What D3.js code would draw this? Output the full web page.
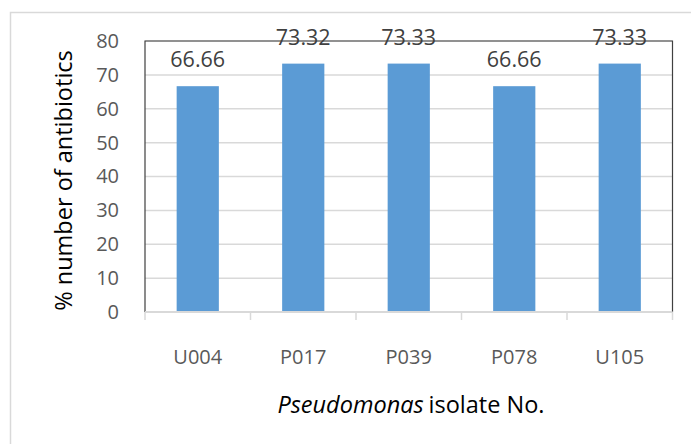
<!DOCTYPE html>
<html><head><meta charset="utf-8">
<script src="https://cdn.jsdelivr.net/npm/d3@7"></script>
<style>body{margin:0;background:#fff}svg{display:block}text{font-family:"Open Sans",sans-serif}</style>
</head><body>
<svg id="c" width="691" height="444"></svg>
<script>
const categories = ["U004","P017","P039","P078","U105"];
const values = [66.66, 73.32, 73.33, 66.66, 73.33];
const labels = ["66.66","73.32","73.33","66.66","73.33"];
const yTicks = [0,10,20,30,40,50,60,70,80];

const svg = d3.select("#c");
const L = 145, R = 672.5, T = 41, B = 312;
const x = d3.scaleBand().domain(categories).range([L, R]).paddingInner(0.6).paddingOuter(0.3);
const xb = d3.scaleBand().domain(categories).range([L, R]);
const y = d3.scaleLinear().domain([0,80]).range([B, T]);

// outer chart border
svg.append("rect").attr("x",10.5).attr("y",12.5).attr("width",720).attr("height",500)
  .attr("fill","none").attr("stroke","#d9d9d9").attr("stroke-width",1.5);

// gridlines
svg.append("g").selectAll("line").data(yTicks.filter(d=>d>0)).join("line")
  .attr("x1",L).attr("x2",R).attr("y1",d=>y(d)).attr("y2",d=>y(d))
  .attr("stroke","#d9d9d9").attr("stroke-width",1.5);

// plot area frame (dark) top, left, right
svg.append("path").attr("d",`M${L},${B}V${T}H${R}V${B}`).attr("fill","none")
  .attr("stroke","#404040").attr("stroke-width",1.2);

// bars
svg.append("g").selectAll("rect").data(categories).join("rect")
  .attr("x",d=>x(d)).attr("width",x.bandwidth())
  .attr("y",(d,i)=>y(values[i])).attr("height",(d,i)=>B-y(values[i]))
  .attr("fill","#5b9bd5");

// x axis
const xAxis = svg.append("g").attr("transform",`translate(0,${B})`)
  .call(d3.axisBottom(xb).tickSize(0).tickPadding(38));
xAxis.select(".domain").attr("stroke","#d9d9d9").attr("stroke-width",2).attr("d",`M${L},0H${R}`);
xAxis.selectAll("text").attr("font-size",20).attr("fill","#595959").attr("font-family","Open Sans");
const tickPos = categories.map(c=>xb(c)).concat([R]);
svg.append("g").selectAll("line").data(tickPos).join("line")
  .attr("x1",d=>d).attr("x2",d=>d).attr("y1",B).attr("y2",B+8)
  .attr("stroke","#d9d9d9").attr("stroke-width",1.5);

// y axis labels
const yAxis = svg.append("g").attr("transform",`translate(${L},0)`)
  .call(d3.axisLeft(y).tickValues(yTicks).tickSize(0).tickPadding(26));
yAxis.select(".domain").remove();
yAxis.selectAll("text").attr("font-size",20).attr("fill","#595959").attr("font-family","Open Sans");

// data labels
svg.append("g").selectAll("text").data(categories).join("text")
  .attr("x",d=>xb(d)+xb.bandwidth()/2).attr("y",(d,i)=>y(values[i])-19)
  .attr("text-anchor","middle").attr("font-size",21.5).attr("fill","#404040")
  .text((d,i)=>labels[i]);

// axis titles
svg.append("text").attr("transform",`translate(72,${(T+B)/2+4}) rotate(-90)`)
  .attr("text-anchor","middle").attr("font-size",23.5).attr("fill","#000")
  .text("% number of antibiotics");
const xt = svg.append("text").attr("x",411).attr("y",413).attr("text-anchor","middle")
  .attr("font-size",23.5).attr("fill","#000");
xt.append("tspan").attr("font-style","italic").text("Pseudomonas");
xt.append("tspan").attr("dx",5).text("isolate No.");
</script>
</body></html>
